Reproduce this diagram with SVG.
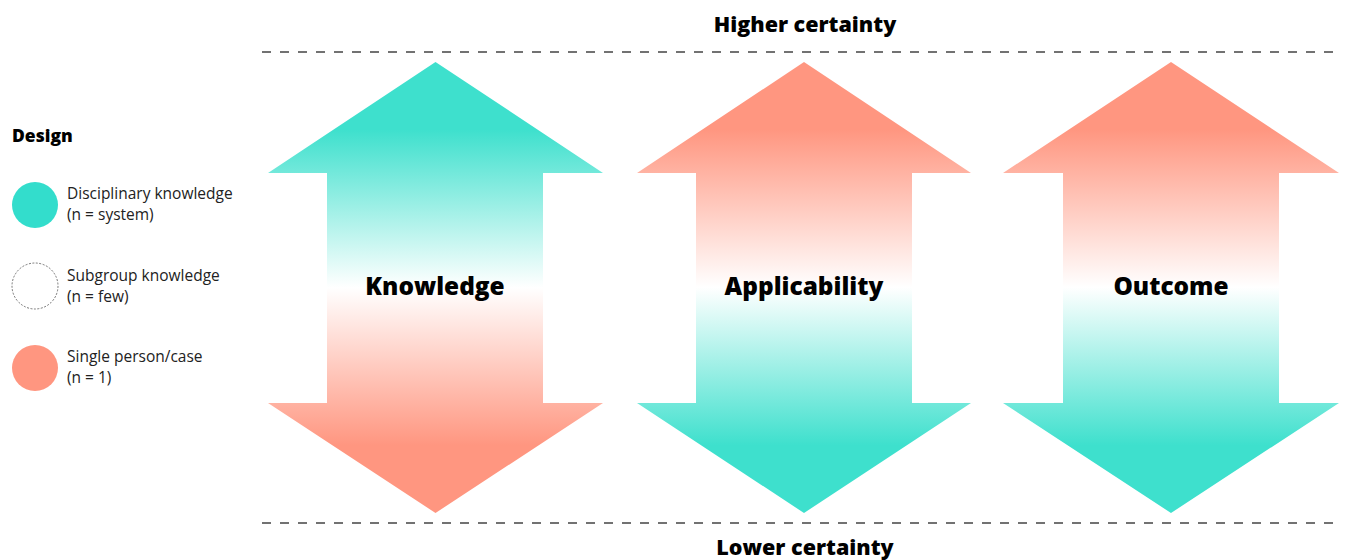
<svg xmlns="http://www.w3.org/2000/svg" width="1348" height="560" viewBox="0 0 1348 560">
<defs>
<linearGradient id="gTS" x1="0" y1="62" x2="0" y2="513" gradientUnits="userSpaceOnUse">
<stop offset="0" stop-color="#3EE0CD"/>
<stop offset="0.15" stop-color="#3EE0CD"/>
<stop offset="0.5" stop-color="#FFFFFF"/>
<stop offset="0.85" stop-color="#FF9680"/>
<stop offset="1" stop-color="#FF9680"/>
</linearGradient>
<linearGradient id="gST" x1="0" y1="62" x2="0" y2="513" gradientUnits="userSpaceOnUse">
<stop offset="0" stop-color="#FF9680"/>
<stop offset="0.15" stop-color="#FF9680"/>
<stop offset="0.5" stop-color="#FFFFFF"/>
<stop offset="0.85" stop-color="#3EE0CD"/>
<stop offset="1" stop-color="#3EE0CD"/>
</linearGradient>
<style>
.t{font-family:"Open Sans","Liberation Sans",sans-serif;fill:#000}
.b{font-weight:800}
.leg{font-size:15.5px;fill:#222}
.dash{stroke:#444;stroke-width:1.3;stroke-dasharray:9 9;fill:none}
.lab{font-size:24.4px;font-weight:800;text-anchor:middle}
</style>
</defs>
<text class="t b" x="805" y="32" font-size="21.5" text-anchor="middle">Higher certainty</text>
<text class="t b" x="805" y="555" font-size="21.5" text-anchor="middle">Lower certainty</text>
<g id="lines">
<line class="dash" x1="262" y1="52" x2="1338" y2="52"/>
<line class="dash" x1="262" y1="523" x2="1338" y2="523"/>
</g>
<g id="legend">
<text class="t b" x="12" y="142" font-size="17.5">Design</text>
<circle cx="35" cy="205" r="23" fill="#33DDCC"/>
<text class="t leg" x="67" y="199">Disciplinary knowledge</text>
<text class="t leg" x="67" y="220">(n = system)</text>
<circle cx="35" cy="286" r="23" fill="none" stroke="#555" stroke-width="0.8" stroke-dasharray="2 1.5"/>
<text class="t leg" x="67" y="281">Subgroup knowledge</text>
<text class="t leg" x="67" y="302">(n = few)</text>
<circle cx="35" cy="368" r="23" fill="#FF9680"/>
<text class="t leg" x="67" y="362">Single person/case</text>
<text class="t leg" x="67" y="383">(n = 1)</text>
</g>
<g id="knowledge">
<polygon fill="url(#gTS)" points="435.5,62 603,173 543,173 543,403 603,403 435.5,513 268,403 327,403 327,173 268,173"/>
<text class="t lab" x="435" y="295">Knowledge</text>
</g>
<g id="applicability">
<polygon fill="url(#gST)" points="804,62 971,173 912,173 912,403 971,403 804,513 637,403 696,403 696,173 637,173"/>
<text class="t lab" x="804" y="295">Applicability</text>
</g>
<g id="outcome">
<polygon fill="url(#gST)" points="1171,62 1339,173 1279,173 1279,403 1339,403 1171,513 1003,403 1063,403 1063,173 1003,173"/>
<text class="t lab" x="1171" y="295">Outcome</text>
</g>
</svg>
